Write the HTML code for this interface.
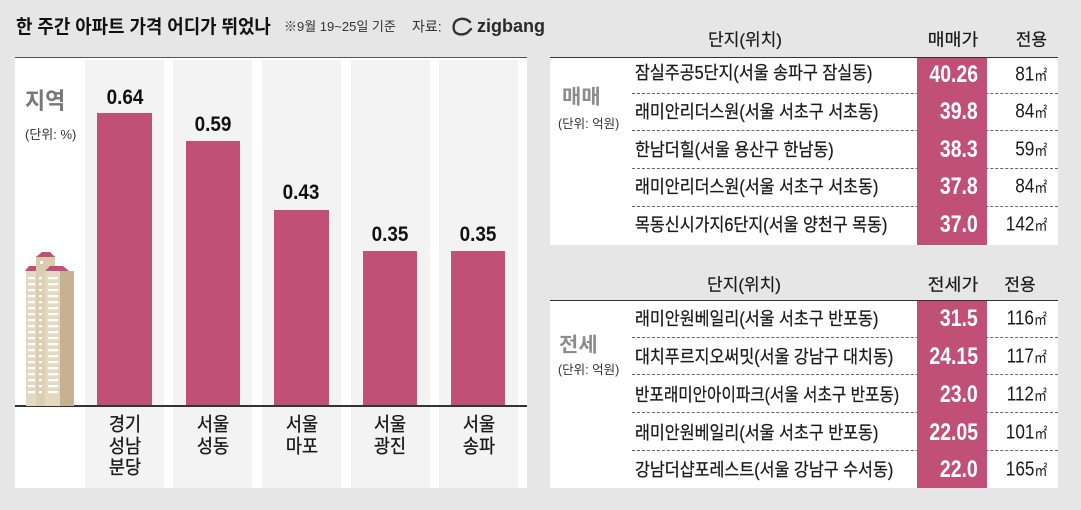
<!DOCTYPE html>
<html lang="ko">
<head>
<meta charset="utf-8">
<style>
  html,body{margin:0;padding:0;}
  body{width:1081px;height:510px;background:#e6e6e6;position:relative;overflow:hidden;
       font-family:"Liberation Sans","Noto Sans CJK KR",sans-serif;color:#1a1a1a;}
  .a{position:absolute;}
  .t{position:absolute;white-space:nowrap;line-height:1.25;}
  .c{transform:translate(-50%,-50%) scaleX(var(--s,1));}
  .l{transform:translateY(-50%) scaleX(var(--s,1));transform-origin:left center;}
  .r{transform:translateY(-50%) scaleX(var(--s,1));transform-origin:right center;}
  .col{position:absolute;top:60px;height:428px;width:79px;background:#f3f3f3;}
  .bar{position:absolute;background:#c05076;}
  .val{font-size:21px;font-weight:bold;color:#111;--s:0.9;}
  .cat{font-size:19px;color:#1a1a1a;--s:0.92;line-height:21.7px;text-align:center;-webkit-text-stroke:0.35px #1a1a1a;}
  .nm{font-size:18px;--s:0.90;left:635px;color:#1a1a1a;-webkit-text-stroke:0.25px #1a1a1a;}
  .num{font-size:24px;font-weight:bold;color:#fff;--s:0.81;right:103px;}
  .ar{font-size:20px;--s:0.86;right:34px;color:#1a1a1a;}
  .ar span{font-size:15px;}
  .dash{position:absolute;left:632px;width:426px;height:0;border-top:1px dashed #666;}
  .hd{font-size:17px;color:#1a1a1a;-webkit-text-stroke:0.2px #1a1a1a;}
</style>
</head>
<body>

<!-- Title -->
<div class="t l" style="left:16px;top:28px;font-size:19px;font-weight:bold;--s:0.94;color:#111;">한 주간 아파트 가격 어디가 뛰었나</div>
<div class="t l" style="left:284px;top:27px;font-size:13px;color:#333;">※9월 19~25일 기준</div>
<div class="t l" style="left:412px;top:27px;font-size:14px;color:#333;">자료:</div>
<svg class="a" style="left:450px;top:16px;" width="26" height="22" viewBox="0 0 26 22">
  <path d="M20 6 C16 2 10 2 6 5 C3 8 3 13 5 16 C8 19 13 19 17 17 L21 13" fill="none" stroke="#333" stroke-width="2.4" stroke-linecap="round"/>
</svg>
<div class="t l" style="left:477px;top:26px;font-size:18px;font-weight:bold;color:#2a2a2a;">zigbang</div>

<!-- Left panel -->
<div class="a" style="left:15px;top:57px;width:512px;height:431px;background:#fff;"></div>
<div class="a" style="left:15px;top:57px;width:512px;height:1px;background:#555;"></div>
<div class="col" style="left:85px;"></div>
<div class="col" style="left:173px;"></div>
<div class="col" style="left:262px;"></div>
<div class="col" style="left:351px;"></div>
<div class="col" style="left:439px;"></div>

<div class="bar" style="left:97px;top:113px;width:55px;height:293px;"></div>
<div class="bar" style="left:186px;top:141px;width:54px;height:265px;"></div>
<div class="bar" style="left:274px;top:210px;width:55px;height:196px;"></div>
<div class="bar" style="left:363px;top:251px;width:54px;height:155px;"></div>
<div class="bar" style="left:451px;top:251px;width:54px;height:155px;"></div>

<div class="a" style="left:15px;top:405px;width:512px;height:1.5px;background:#333;"></div>

<div class="t c val" style="left:124.5px;top:98px;">0.64</div>
<div class="t c val" style="left:213px;top:125px;">0.59</div>
<div class="t c val" style="left:301px;top:193px;">0.43</div>
<div class="t c val" style="left:390px;top:235px;">0.35</div>
<div class="t c val" style="left:478px;top:235px;">0.35</div>

<div class="t c cat" style="left:124.5px;top:447px;">경기<br>성남<br>분당</div>
<div class="t c cat" style="left:213px;top:436px;">서울<br>성동</div>
<div class="t c cat" style="left:301.5px;top:436px;">서울<br>마포</div>
<div class="t c cat" style="left:390px;top:436px;">서울<br>광진</div>
<div class="t c cat" style="left:478.5px;top:436px;">서울<br>송파</div>

<div class="t l" style="left:25px;top:101px;font-size:23px;font-weight:bold;color:#787878;--s:0.95;">지역</div>
<div class="t l" style="left:25px;top:135px;font-size:13px;color:#333;">(단위: %)</div>

<!-- building -->
<svg class="a" style="left:0;top:0;" width="1081" height="510">
  <rect x="36" y="256" width="19" height="16" fill="#d9ccae"/>
  <polygon points="36,257 42,252 50,252 55,257" fill="#c05076"/>
  <rect x="40" y="261" width="3" height="3" fill="#fff"/>
  <rect x="26" y="270" width="34" height="136" fill="#e4d9c0"/>
  <rect x="36" y="270" width="9" height="136" fill="#dccfb3"/>
  <rect x="60" y="271" width="14" height="135" fill="#c4b293"/>
  <polygon points="25,271 29,266 36,266 36,271" fill="#c05076"/>
  <polygon points="45,271 50,266 63,266 69,271" fill="#c05076"/>
  <g fill="#fff">
    <rect x="28" y="277" width="7" height="2.3"/><rect x="48" y="277" width="10" height="2.3"/><rect x="39" y="277" width="3" height="2.3"/>
    <rect x="28" y="283" width="7" height="2.3"/><rect x="48" y="283" width="10" height="2.3"/><rect x="39" y="283" width="3" height="2.3"/>
    <rect x="28" y="289" width="7" height="2.3"/><rect x="48" y="289" width="10" height="2.3"/><rect x="39" y="289" width="3" height="2.3"/>
    <rect x="28" y="295" width="7" height="2.3"/><rect x="48" y="295" width="10" height="2.3"/><rect x="39" y="295" width="3" height="2.3"/>
    <rect x="28" y="301" width="7" height="2.3"/><rect x="48" y="301" width="10" height="2.3"/><rect x="39" y="301" width="3" height="2.3"/>
    <rect x="28" y="307" width="7" height="2.3"/><rect x="48" y="307" width="10" height="2.3"/><rect x="39" y="307" width="3" height="2.3"/>
    <rect x="28" y="313" width="7" height="2.3"/><rect x="48" y="313" width="10" height="2.3"/><rect x="39" y="313" width="3" height="2.3"/>
    <rect x="28" y="319" width="7" height="2.3"/><rect x="48" y="319" width="10" height="2.3"/><rect x="39" y="319" width="3" height="2.3"/>
    <rect x="28" y="325" width="7" height="2.3"/><rect x="48" y="325" width="10" height="2.3"/><rect x="39" y="325" width="3" height="2.3"/>
    <rect x="28" y="331" width="7" height="2.3"/><rect x="48" y="331" width="10" height="2.3"/><rect x="39" y="331" width="3" height="2.3"/>
    <rect x="28" y="337" width="7" height="2.3"/><rect x="48" y="337" width="10" height="2.3"/><rect x="39" y="337" width="3" height="2.3"/>
    <rect x="28" y="343" width="7" height="2.3"/><rect x="48" y="343" width="10" height="2.3"/><rect x="39" y="343" width="3" height="2.3"/>
    <rect x="28" y="349" width="7" height="2.3"/><rect x="48" y="349" width="10" height="2.3"/><rect x="39" y="349" width="3" height="2.3"/>
    <rect x="28" y="355" width="7" height="2.3"/><rect x="48" y="355" width="10" height="2.3"/><rect x="39" y="355" width="3" height="2.3"/>
    <rect x="28" y="361" width="7" height="2.3"/><rect x="48" y="361" width="10" height="2.3"/><rect x="39" y="361" width="3" height="2.3"/>
    <rect x="28" y="367" width="7" height="2.3"/><rect x="48" y="367" width="10" height="2.3"/><rect x="39" y="367" width="3" height="2.3"/>
    <rect x="28" y="373" width="7" height="2.3"/><rect x="48" y="373" width="10" height="2.3"/><rect x="39" y="373" width="3" height="2.3"/>
    <rect x="28" y="379" width="7" height="2.3"/><rect x="48" y="379" width="10" height="2.3"/><rect x="39" y="379" width="3" height="2.3"/>
    <rect x="28" y="385" width="7" height="2.3"/><rect x="48" y="385" width="10" height="2.3"/><rect x="39" y="385" width="3" height="2.3"/>
    <rect x="28" y="391" width="7" height="2.3"/><rect x="48" y="391" width="10" height="2.3"/><rect x="39" y="391" width="3" height="2.3"/>
  </g>
</svg>

<!-- Right panel: top table -->
<div class="t c hd" style="left:745px;top:40px;--s:1.0;">단지(위치)</div>
<div class="t c hd" style="left:953px;top:40px;--s:1.08;">매매가</div>
<div class="t r hd" style="right:34px;top:40px;">전용</div>

<div class="a" style="left:550px;top:57px;width:508px;height:188px;background:#fff;"></div>
<div class="a" style="left:550px;top:57px;width:508px;height:1px;background:#333;"></div>
<div class="dash" style="top:93px;"></div>
<div class="dash" style="top:130px;"></div>
<div class="dash" style="top:168px;"></div>
<div class="dash" style="top:206px;"></div>
<div class="a" style="left:917px;top:58px;width:70px;height:187px;background:#c05076;"></div>

<div class="t l" style="left:562px;top:98px;font-size:20px;font-weight:bold;color:#8c8c8c;--s:1.05;">매매</div>
<div class="t l" style="left:558px;top:125px;font-size:12.5px;color:#333;">(단위: 억원)</div>

<div class="t l nm" style="top:73px;">잠실주공5단지(서울 송파구 잠실동)</div>
<div class="t l nm" style="top:112px;">래미안리더스원(서울 서초구 서초동)</div>
<div class="t l nm" style="top:149.5px;">한남더힐(서울 용산구 한남동)</div>
<div class="t l nm" style="top:187px;">래미안리더스원(서울 서초구 서초동)</div>
<div class="t l nm" style="top:224.5px;">목동신시가지6단지(서울 양천구 목동)</div>

<div class="t r num" style="top:75px;">40.26</div>
<div class="t r num" style="top:112px;">39.8</div>
<div class="t r num" style="top:149.5px;">38.3</div>
<div class="t r num" style="top:187px;">37.8</div>
<div class="t r num" style="top:224.5px;">37.0</div>

<div class="t r ar" style="top:75px;">81<span>㎡</span></div>
<div class="t r ar" style="top:112px;">84<span>㎡</span></div>
<div class="t r ar" style="top:149.5px;">59<span>㎡</span></div>
<div class="t r ar" style="top:187px;">84<span>㎡</span></div>
<div class="t r ar" style="top:224.5px;">142<span>㎡</span></div>

<!-- Right panel: bottom table -->
<div class="t c hd" style="left:744px;top:285px;--s:1.0;">단지(위치)</div>
<div class="t c hd" style="left:953px;top:285px;--s:1.08;">전세가</div>
<div class="t c hd" style="left:1020px;top:285px;">전용</div>

<div class="a" style="left:550px;top:300px;width:508px;height:188px;background:#fff;"></div>
<div class="a" style="left:550px;top:300px;width:508px;height:1px;background:#333;"></div>
<div class="dash" style="top:337px;"></div>
<div class="dash" style="top:374px;"></div>
<div class="dash" style="top:412px;"></div>
<div class="dash" style="top:450px;"></div>
<div class="a" style="left:917px;top:301px;width:70px;height:187px;background:#c05076;"></div>

<div class="t l" style="left:559px;top:346px;font-size:20px;font-weight:bold;color:#8c8c8c;--s:1.05;">전세</div>
<div class="t l" style="left:558px;top:371px;font-size:12.5px;color:#333;">(단위: 억원)</div>

<div class="t l nm" style="top:319px;">래미안원베일리(서울 서초구 반포동)</div>
<div class="t l nm" style="top:356.5px;">대치푸르지오써밋(서울 강남구 대치동)</div>
<div class="t l nm" style="top:394.5px;--s:0.87;">반포래미안아이파크(서울 서초구 반포동)</div>
<div class="t l nm" style="top:432.5px;">래미안원베일리(서울 서초구 반포동)</div>
<div class="t l nm" style="top:470px;">강남더샵포레스트(서울 강남구 수서동)</div>

<div class="t r num" style="top:319px;">31.5</div>
<div class="t r num" style="top:356.5px;">24.15</div>
<div class="t r num" style="top:394.5px;">23.0</div>
<div class="t r num" style="top:432.5px;">22.05</div>
<div class="t r num" style="top:470px;">22.0</div>

<div class="t r ar" style="top:319px;">116<span>㎡</span></div>
<div class="t r ar" style="top:356.5px;">117<span>㎡</span></div>
<div class="t r ar" style="top:394.5px;">112<span>㎡</span></div>
<div class="t r ar" style="top:432.5px;">101<span>㎡</span></div>
<div class="t r ar" style="top:470px;">165<span>㎡</span></div>

</body>
</html>
